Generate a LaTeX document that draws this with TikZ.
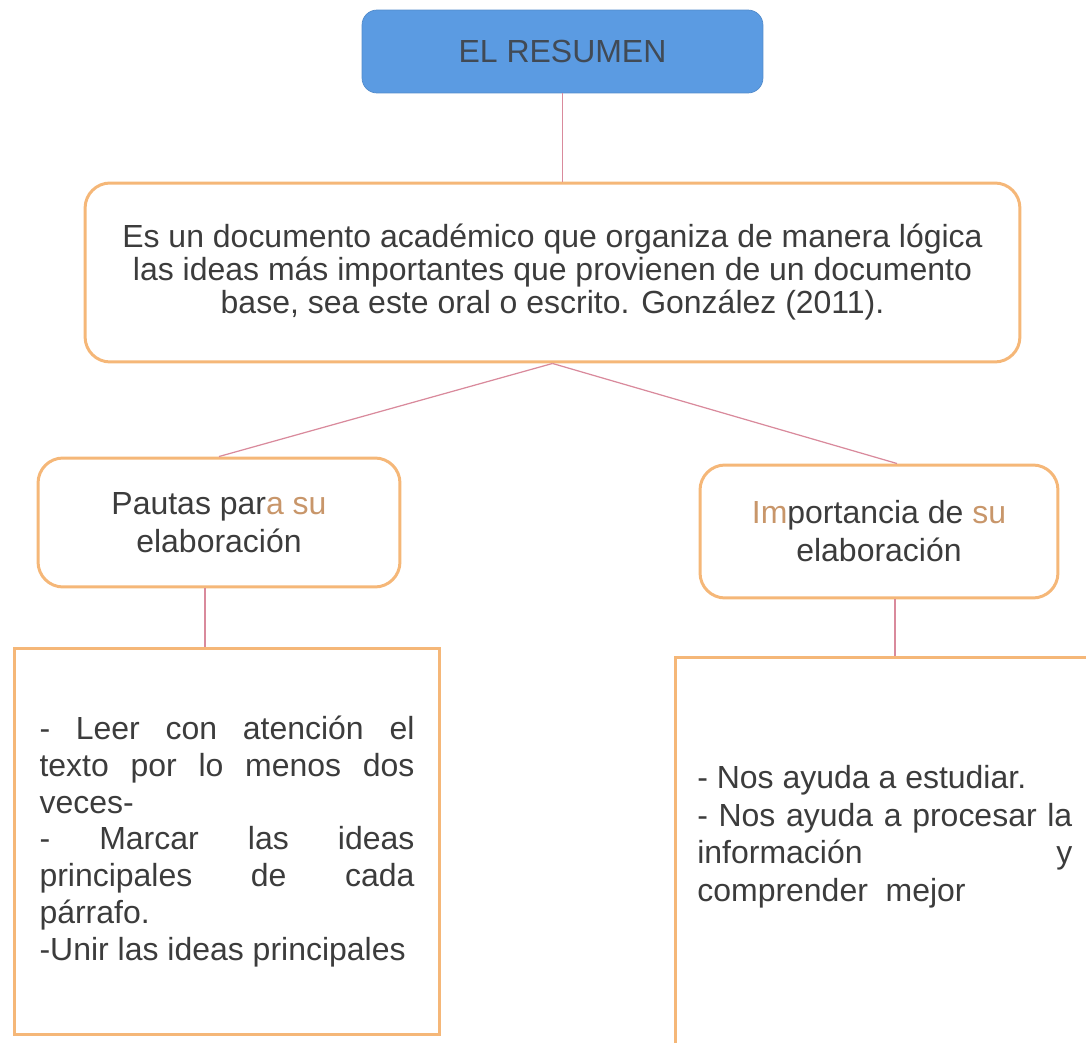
\documentclass[tikz,border=0pt]{standalone}
\usepackage{fontspec}
\setmainfont{Liberation Sans}
\usetikzlibrary{calc}
\definecolor{naranja}{HTML}{F5B778}
\definecolor{azul}{HTML}{5B9BE2}
\definecolor{rosa}{HTML}{D98A9C}
\definecolor{tinta}{HTML}{3C3C3C}
\definecolor{ocre}{HTML}{C8966A}
\begin{document}
\begin{tikzpicture}[x=0.02cm,y=-0.02cm,
  caja/.style={draw=naranja, line width=1.7pt, rounded corners=0.5cm, text=tinta,
    align=center, font=\fontsize{18.2}{21.6}\selectfont},
  lista/.style={draw=naranja, line width=1.7pt, text=tinta,
    font=\fontsize{18.2}{21}\selectfont},
  enlace/.style={rosa, line width=0.7pt}]
\useasboundingbox (0,0) rectangle (1086,1043);
\tolerance=10000 \hyphenpenalty=10000
\node (resumen) [fill=azul, draw=azul!90!black, rounded corners=0.3cm,
  minimum width=8.02cm, minimum height=1.66cm, text=tinta!85!azul,
  font=\fontsize{18.2}{21}\selectfont] at (562.5,51.5) {EL RESUMEN};
\node (definicion) [caja, minimum width=18.7cm, minimum height=3.58cm,
  font=\fontsize{18.2}{18.8}\selectfont] at (552.5,272.5)
  {Es un documento académico que organiza de manera lógica\\
   las ideas más importantes que provienen de un documento\\
   base, sea este oral o escrito. González (2011).};
\node (pautas) [caja, minimum width=7.24cm, minimum height=2.58cm] at (219,522.5)
  {Pautas par\textcolor{ocre}{a su}\\elaboración};
\node (importancia) [caja, minimum width=7.16cm, minimum height=2.66cm] at (879,531.5)
  {\textcolor{ocre}{Im}portancia de \textcolor{ocre}{su}\\elaboración};
\node (pautaslista) [lista, minimum width=8.52cm, minimum height=7.74cm,
  text width=7.5cm, align=justify] at (227,841.5)
  {- Leer con atención el\linebreak texto por lo menos dos\linebreak veces-\\
   - Marcar las ideas\linebreak principales de cada\linebreak párrafo.\\
   -Unir las ideas principales};
\node (importlista) [lista, minimum width=8.4cm, minimum height=7.86cm] at (885,853.5) {};
\node (importtexto) [text=tinta, font=\fontsize{18.2}{21.4}\selectfont, text width=7.5cm,
  align=justify, inner sep=0pt, anchor=north west] at (697,765)
  {- Nos ayuda a estudiar.\\
   - Nos ayuda a procesar la\linebreak información y\linebreak comprender\ \ mejor};
% enlaces
\draw[enlace] (resumen.south) -- (resumen.south |- definicion.north);
\draw[enlace] (definicion.south) -- (pautas.north);
\draw[enlace] (definicion.south) -- ($(importancia.north)+(18,0)$);
\draw[enlace] ($(pautas.south)+(-14,0)$) -- ($(pautas.south |- pautaslista.north)+(-14,0)$);
\draw[enlace] ($(importancia.south)+(16,0)$) -- ($(importancia.south |- importlista.north)+(16,0)$);
\end{tikzpicture}
\end{document}
